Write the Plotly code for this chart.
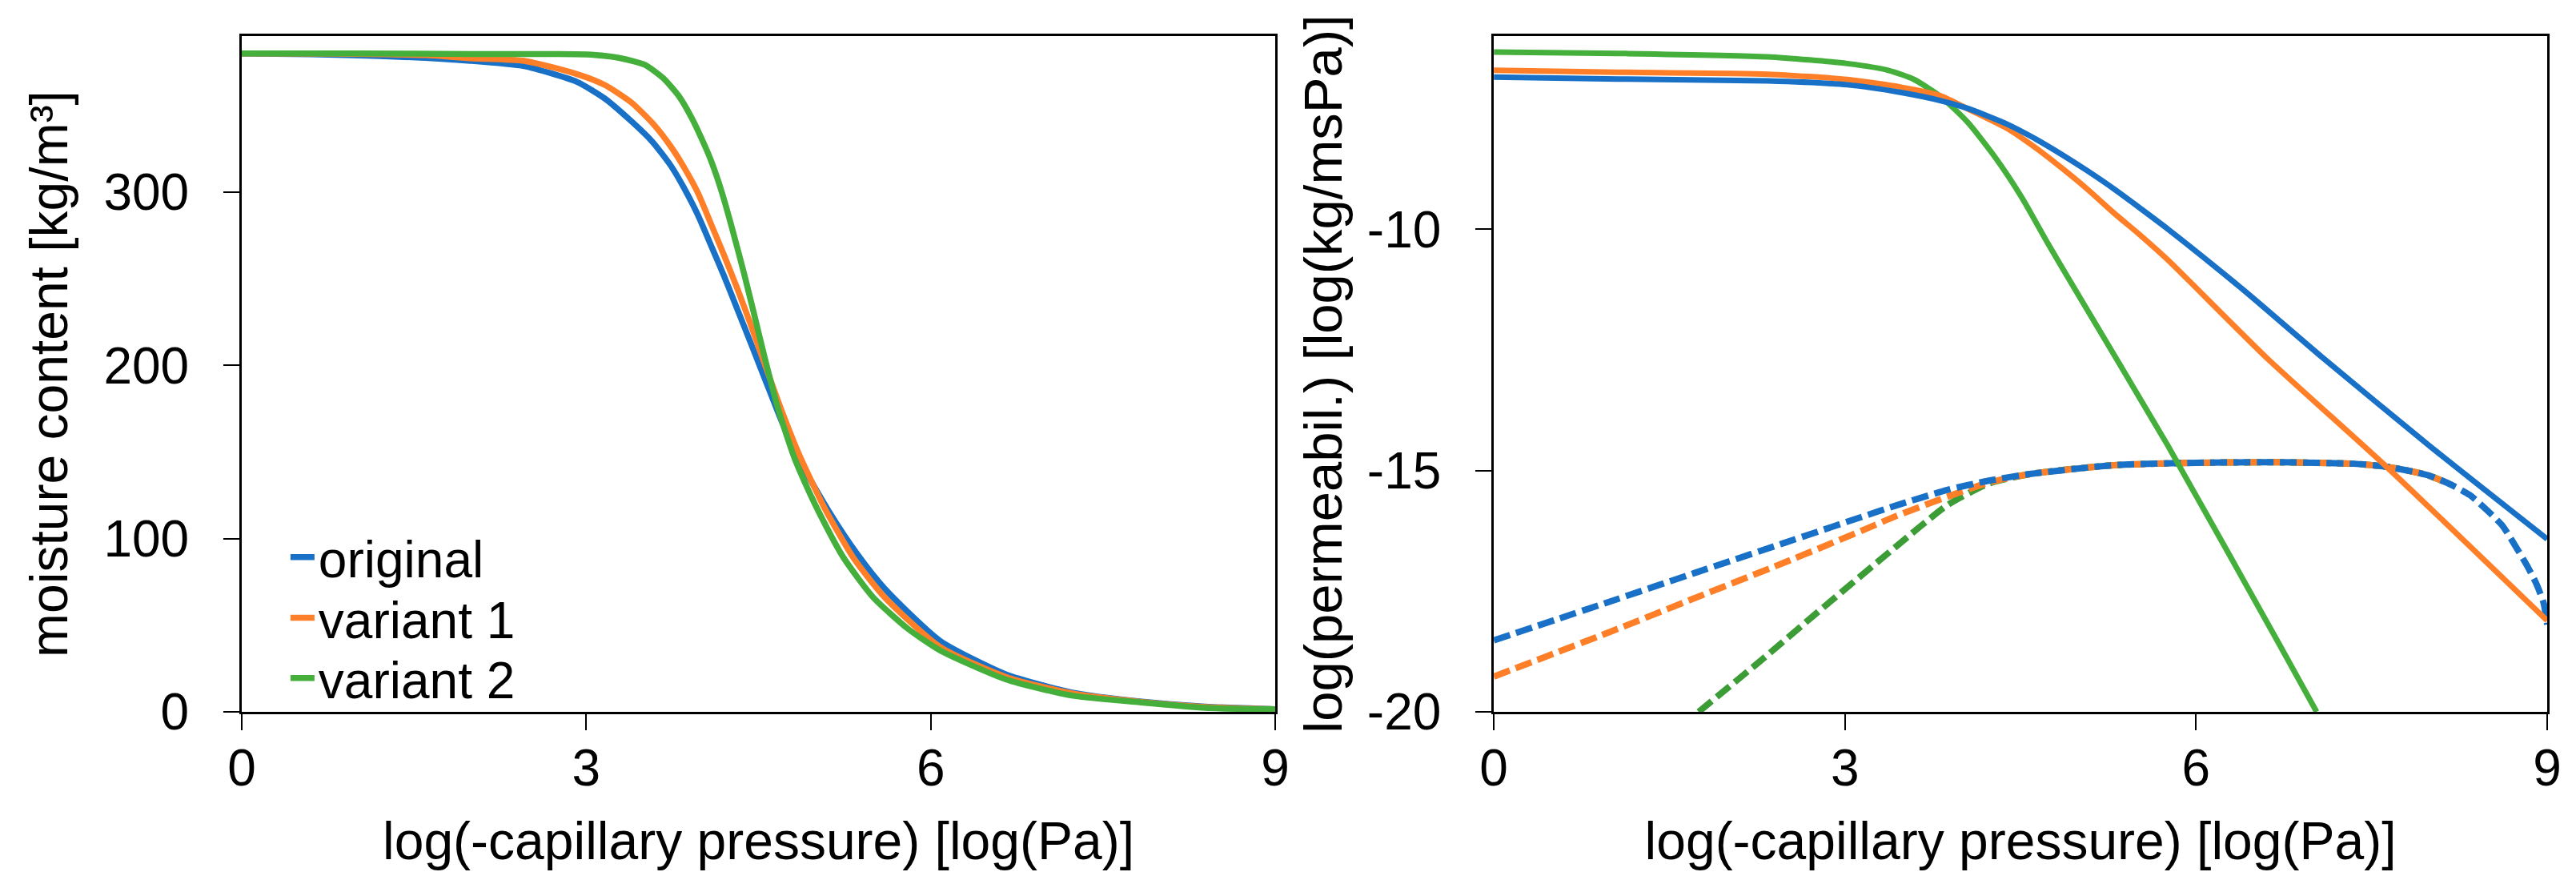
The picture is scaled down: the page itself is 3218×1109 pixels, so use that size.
import plotly.graph_objects as go
from plotly.subplots import make_subplots

# --- moisture storage function (left panel) ---
mc_x_orig = [0, 0.6, 1.2, 1.99, 2.46, 2.92, 3.16, 3.39, 3.58, 3.74, 3.85, 3.97, 4.09, 4.20, 4.32, 4.44, 4.55, 4.70, 4.85, 5.11, 5.36, 5.6, 6.08, 6.66, 7.24, 7.82, 8.39, 9.0]
mc_y_orig = [380, 379.5, 378.5, 375.7, 372.6, 363.5, 354, 341, 328.7, 314.8, 302.5, 287, 268.6, 251.5, 231.6, 211.6, 193, 168, 146, 116, 91, 71, 41, 21.5, 11, 6, 3, 1.5]

mc_x_var1 = [0, 0.8, 1.6, 1.99, 2.46, 2.92, 3.16, 3.39, 3.58, 3.74, 3.85, 3.97, 4.09, 4.20, 4.32, 4.44, 4.55, 4.70, 4.85, 5.08, 5.33, 5.6, 6.08, 6.66, 7.24, 7.82, 8.39, 9.0]
mc_y_var1 = [380, 379.8, 379, 377.2, 375.7, 368, 361.8, 351.8, 339.5, 325.9, 314.4, 299.8, 281, 263.5, 243.5, 222, 201.5, 174, 149, 117, 88.5, 66, 37.5, 20, 10.5, 5.8, 2.8, 1.5]

mc_x_var2 = [0, 1.0, 1.99, 2.69, 3.04, 3.30, 3.51, 3.67, 3.81, 3.92, 4.02, 4.09, 4.18, 4.27, 4.37, 4.46, 4.55, 4.67, 4.81, 4.92, 5.02, 5.24, 5.50, 5.8, 6.08, 6.66, 7.24, 7.82, 8.39, 9.0]
mc_y_var2 = [380, 380, 379.6, 379.6, 379.3, 377.2, 373.4, 365.7, 355, 342.5, 328.5, 317.5, 300, 279, 254, 230, 205.5, 175, 147, 130, 116, 89, 66, 48, 35.5, 18.6, 9.3, 5.5, 2.3, 1.5]

# --- permeabilities (right panel) ---
# liquid (solid)
kl_x_orig = [0, 1.06, 2.34, 3.02, 3.48, 3.82, 4.05, 4.39, 4.62, 4.85, 5.07, 5.30, 5.53, 5.76, 6.4, 7.08, 8.0, 9.0]
kl_y_orig = [-6.85, -6.89, -6.93, -7.01, -7.17, -7.34, -7.50, -7.83, -8.12, -8.45, -8.79, -9.17, -9.58, -10.0, -11.25, -12.66, -14.5, -16.42]

kl_x_var1 = [0, 1.06, 2.34, 3.02, 3.48, 3.82, 4.05, 4.39, 4.62, 4.85, 5.07, 5.30, 5.53, 5.76, 6.60, 7.63, 9.0]
kl_y_var1 = [-6.71, -6.75, -6.79, -6.90, -7.06, -7.24, -7.51, -7.92, -8.30, -8.73, -9.17, -9.67, -10.14, -10.64, -12.66, -14.93, -18.11]

kl_x_var2 = [0, 1.06, 2.34, 3.02, 3.37, 3.59, 3.82, 4.05, 4.28, 4.51, 4.73, 4.89, 5.76, 6.72, 7.03]
kl_y_var2 = [-6.33, -6.36, -6.43, -6.57, -6.71, -6.90, -7.26, -7.79, -8.50, -9.34, -10.28, -10.94, -14.49, -18.64, -20.0]

# vapour (dashed)
kv_x_orig = [0, 1.06, 1.72, 2.47, 3.17, 3.43, 3.88, 4.23, 4.59, 5.30, 6.0, 6.70, 7.35, 7.65, 7.97, 8.15, 8.34, 8.48, 8.62, 8.72, 8.83, 8.91, 8.97, 9.0]
kv_y_orig = [-18.52, -17.66, -17.12, -16.51, -15.94, -15.73, -15.4, -15.21, -15.07, -14.89, -14.84, -14.83, -14.86, -14.93, -15.09, -15.26, -15.51, -15.81, -16.15, -16.53, -16.98, -17.36, -17.75, -18.19]

kv_x_var1 = [0, 1.06, 1.72, 2.47, 3.17, 3.43, 3.88, 4.23, 4.59, 5.30, 6.0, 6.70, 7.35, 7.65, 7.97, 8.15]
kv_y_var1 = [-19.27, -18.28, -17.64, -16.92, -16.22, -15.95, -15.54, -15.25, -15.07, -14.89, -14.84, -14.83, -14.86, -14.93, -15.09, -15.26]

kv_x_var2 = [1.75, 2.29, 2.75, 3.43, 3.88, 4.23, 4.59, 5.30, 6.0, 6.70, 7.35, 7.65, 7.97, 8.15]
kv_y_var2 = [-20.0, -18.92, -17.97, -16.59, -15.71, -15.27, -15.07, -14.89, -14.84, -14.83, -14.86, -14.93, -15.09, -15.26]

names = ["original", "variant 1", "variant 2"]
x_ticks = [0, 3, 6, 9]
mc_ticks = [0, 100, 200, 300]
k_ticks = [-20, -15, -10]
k_ticktext = ["-20", "-15", "-10"]

blue, orange, green, green_dark = "#1871c6", "#fe7f27", "#45af3c", "#3c9c35"
FONT = "Arial, Liberation Sans, sans-serif"

fig = make_subplots(rows=1, cols=2)

# left panel, each entry gets its own legend box so the rows can sit tight
for xs, ys, nm, col, lg in [(mc_x_orig, mc_y_orig, names[0], blue, "legend"),
                            (mc_x_var1, mc_y_var1, names[1], orange, "legend2"),
                            (mc_x_var2, mc_y_var2, names[2], green, "legend3")]:
    fig.add_trace(go.Scatter(x=xs, y=ys, name=nm, mode="lines", legend=lg,
                             line=dict(color=col, width=7.5, shape="spline", smoothing=0.6)),
                  row=1, col=1)

# right panel - dashed first
for xs, ys, col in [(kv_x_var2, kv_y_var2, green_dark),
                    (kv_x_var1, kv_y_var1, orange),
                    (kv_x_orig, kv_y_orig, blue)]:
    fig.add_trace(go.Scatter(x=xs, y=ys, mode="lines", showlegend=False,
                             line=dict(color=col, width=8, dash="21px,8px", shape="spline", smoothing=0.6)),
                  row=1, col=2)
for xs, ys, col in [(kl_x_var2, kl_y_var2, green),
                    (kl_x_var1, kl_y_var1, orange),
                    (kl_x_orig, kl_y_orig, blue)]:
    fig.add_trace(go.Scatter(x=xs, y=ys, mode="lines", showlegend=False,
                             line=dict(color=col, width=7, shape="spline", smoothing=0.6)),
                  row=1, col=2)

axis_common = dict(showline=True, linecolor="black", linewidth=3, mirror=True,
                   ticks="outside", ticklen=20, tickwidth=2, tickcolor="black",
                   showgrid=False, zeroline=False,
                   tickfont=dict(family=FONT, size=64, color="black"))

fig.update_xaxes(**axis_common, range=[0, 9], tickvals=x_ticks, ticklabelstandoff=-8,
                 title=dict(text="log(-capillary pressure) [log(Pa)]", standoff=34,
                            font=dict(family=FONT, size=66, color="black")))
fig.update_xaxes(domain=[0, 0.4483], row=1, col=1)
fig.update_xaxes(domain=[0.5431, 1.0], row=1, col=2)

fig.update_yaxes(**axis_common, ticklabelstandoff=30)
fig.update_yaxes(range=[0, 390], tickvals=mc_ticks,
                 title=dict(text="moisture content [kg/m³]", standoff=24,
                            font=dict(family=FONT, size=66, color="black")),
                 row=1, col=1)
fig.update_yaxes(range=[-20, -6], tickvals=k_ticks, ticktext=k_ticktext,
                 title=dict(text="log(permeabil.) [log(kg/msPa)]", standoff=10,
                            font=dict(family=FONT, size=67, color="black")),
                 row=1, col=2)

leg = dict(x=0.0194, xanchor="left", yanchor="middle", bgcolor="rgba(0,0,0,0)",
           font=dict(family=FONT, size=64, color="black"), itemwidth=30)
fig.update_layout(
    width=3218, height=1109,
    margin=dict(l=294, r=44, t=37, b=228),
    plot_bgcolor="white", paper_bgcolor="white",
    font=dict(family=FONT, color="black"),
    showlegend=True,
    legend=dict(leg, y=0.2286),
    legend2=dict(leg, y=0.1386),
    legend3=dict(leg, y=0.0497),
)

fig.write_html("out.html")
